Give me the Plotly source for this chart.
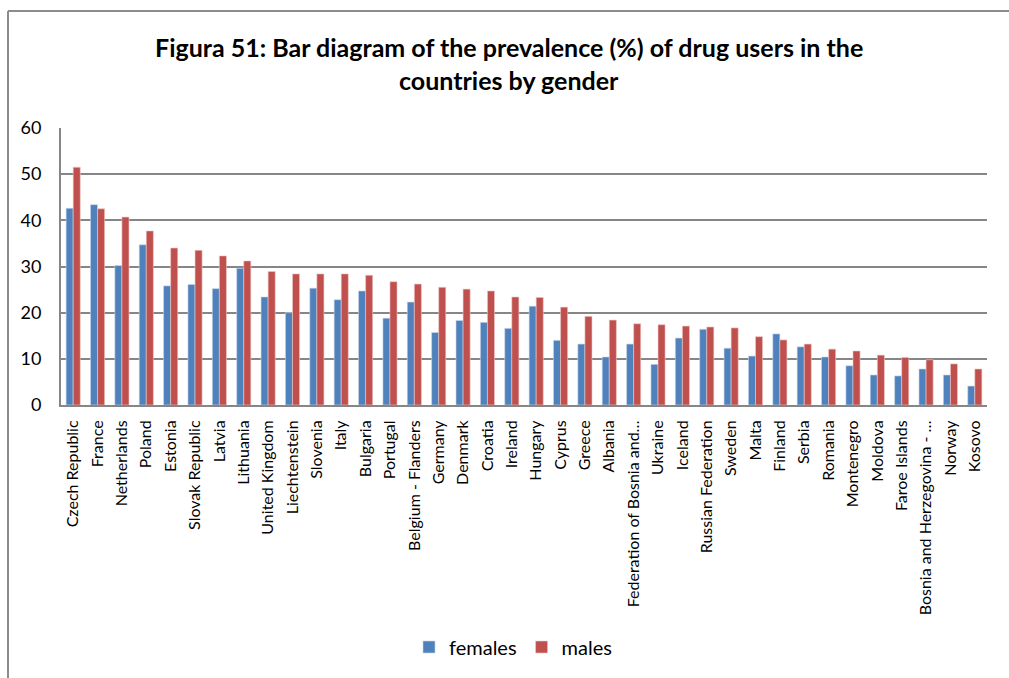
import plotly.graph_objects as go

countries = [
    "Czech Republic", "France", "Netherlands", "Poland", "Estonia",
    "Slovak Republic", "Latvia", "Lithuania", "United Kingdom", "Liechtenstein",
    "Slovenia", "Italy", "Bulgaria", "Portugal", "Belgium - Flanders",
    "Germany", "Denmark", "Croatia", "Ireland", "Hungary",
    "Cyprus", "Greece", "Albania", "Federation of Bosnia and…", "Ukraine",
    "Iceland", "Russian Federation", "Sweden", "Malta", "Finland",
    "Serbia", "Romania", "Montenegro", "Moldova", "Faroe Islands",
    "Bosnia and Herzegovina - …", "Norway", "Kosovo",
]

females = [
    42.6, 43.4, 30.2, 34.7, 25.8,
    26.1, 25.2, 29.6, 23.4, 20.0,
    25.3, 22.8, 24.7, 18.8, 22.3,
    15.7, 18.3, 17.9, 16.6, 21.4,
    14.0, 13.2, 10.4, 13.2, 8.8,
    14.5, 16.4, 12.3, 10.6, 15.4,
    12.6, 10.4, 8.5, 6.5, 6.3,
    7.8, 6.5, 4.1,
]

males = [
    51.5, 42.5, 40.7, 37.7, 34.0,
    33.5, 32.3, 31.2, 28.9, 28.4,
    28.4, 28.4, 28.1, 26.7, 26.2,
    25.5, 25.1, 24.7, 23.4, 23.3,
    21.2, 19.2, 18.4, 17.6, 17.4,
    17.1, 16.9, 16.7, 14.8, 14.1,
    13.2, 12.1, 11.7, 10.8, 10.3,
    9.8, 8.9, 7.8,
]

y_ticks = [0, 10, 20, 30, 40, 50, 60]

FONT = "Lato, Carlito, Calibri, sans-serif"
GRID = "#868686"
FRAME = "#8c8c8c"

fig = go.Figure()
fig.add_trace(go.Bar(
    x=countries, y=females, name="females",
    marker=dict(color="#4F81BD", line=dict(color="#c9d7ea", width=0.6)),
))
fig.add_trace(go.Bar(
    x=countries, y=males, name="males",
    marker=dict(color="#C0504D", line=dict(color="#ecc9c8", width=0.6)),
))

# plot area in pixels: x 61..987, y 128..405
L, R, T, B = 61, 987, 128, 405
W, H = 1009, 678
pw, ph = R - L, B - T


def px_x(px):
    return (px - L) / pw


def px_y(py):
    return (B - py) / ph


fig.update_layout(
    width=W, height=H,
    margin=dict(l=L, r=W - R, t=T, b=H - B, pad=0),
    paper_bgcolor="white", plot_bgcolor="white",
    barmode="group", bargap=0.42, bargroupgap=0.0,
    font=dict(family=FONT, color="black"),
    showlegend=True,
    legend=dict(
        orientation="h", x=px_x(513), xanchor="center",
        y=px_y(647), yanchor="middle",
        font=dict(size=20, family=FONT), itemwidth=30,
        bgcolor="rgba(0,0,0,0)",
    ),
    xaxis=dict(
        type="category", tickangle=-90, tickfont=dict(size=16, family=FONT),
        showline=True, linecolor=GRID, linewidth=2, ticks="",
        ticklabelstandoff=7,
        showgrid=False, automargin=False,
    ),
    yaxis=dict(
        range=[0, 60], tickvals=y_ticks, tickfont=dict(size=18, family=FONT),
        showline=True, linecolor=GRID, linewidth=2,
        showgrid=True, gridcolor=GRID, gridwidth=2,
        zeroline=False, ticks="", ticklen=0, ticklabelstandoff=14,
        automargin=False,
    ),
    shapes=[
        # outer chart frame: top and left edges
        dict(type="line", xref="paper", yref="paper",
             x0=px_x(8), x1=px_x(1012), y0=px_y(11), y1=px_y(11),
             line=dict(color=FRAME, width=2), layer="below"),
        dict(type="line", xref="paper", yref="paper",
             x0=px_x(8), x1=px_x(8), y0=px_y(11), y1=px_y(680),
             line=dict(color=FRAME, width=2), layer="below"),
    ],
    annotations=[
        dict(text="<b>Figura 51: Bar diagram of the prevalence (%) of drug users in the</b>",
             xref="paper", yref="paper", x=px_x(509), y=px_y(47),
             xanchor="center", yanchor="middle", showarrow=False,
             font=dict(size=25, family=FONT, color="black")),
        dict(text="<b>countries by gender</b>",
             xref="paper", yref="paper", x=px_x(509), y=px_y(80),
             xanchor="center", yanchor="middle", showarrow=False,
             font=dict(size=25, family=FONT, color="black")),
    ],
)

fig.write_html("out.html")
